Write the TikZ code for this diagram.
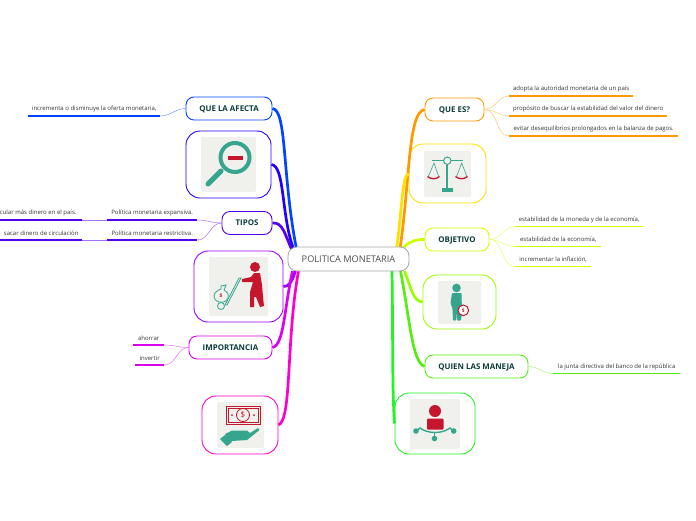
\documentclass[tikz,border=0pt]{standalone}
\usepackage{fontspec}
\setmainfont{Open Sans}
\usepackage{xcolor}
\usetikzlibrary{calc}
\definecolor{cAfecta}{HTML}{0044FF}
\definecolor{cLupa}{HTML}{2200FF}
\definecolor{cTipos}{HTML}{5500EE}
\definecolor{cCarga}{HTML}{9900FF}
\definecolor{cImporta}{HTML}{DD00EE}
\definecolor{cMano}{HTML}{FF00CC}
\definecolor{cQue}{HTML}{FF9900}
\definecolor{cBalanza}{HTML}{FFE000}
\definecolor{cObjetivo}{HTML}{CCFF00}
\definecolor{cSocio}{HTML}{99FF00}
\definecolor{cQuien}{HTML}{55EE11}
\definecolor{cRed}{HTML}{22F522}
\definecolor{iconTeal}{HTML}{36A58E}
\definecolor{iconRed}{HTML}{C5162E}
\definecolor{iconBack}{HTML}{F0F0ED}
\definecolor{topicText}{HTML}{0B3D3A}

\begin{document}
\begin{tikzpicture}[
  x=1pt, y=-1pt,
  every node/.style={inner sep=0pt},
  root/.style={draw=gray!70, line width=0.8pt, rounded corners=9pt, fill=white,
               minimum width=121pt, minimum height=24pt, text=black!70,
               text height=6.6pt, text depth=0pt,
               font=\fontsize{9.2}{11}\selectfont},
  topic/.style={draw=#1, line width=0.9pt, rounded corners=8pt, fill=white,
                minimum height=23pt, text=topicText,
                text height=5.8pt, text depth=0pt,
                font=\fontsize{7.9}{9}\selectfont\bfseries},
  picbox/.style={draw=#1, line width=0.9pt, rounded corners=14pt, fill=white},
  leaf/.style={anchor=south west, minimum height=13.5pt, text=black!80,
               font=\fontsize{6}{7}\selectfont},
  branch/.style={line width=2.7pt, #1},
  link/.style={line width=0.5pt, #1!55},
  back/.style={fill=iconBack, rounded corners=2pt},
]
  \useasboundingbox (0,0) rectangle (696,520);

  % Central topic goes on last, branches run underneath it
  \coordinate (hub) at (348.5,259);

  % Left side
  \node[topic=cAfecta, minimum width=86pt] (afecta) at (229,108.5) {QUE LA AFECTA};
  \node[picbox=cLupa, minimum width=85pt, minimum height=67pt] (lupa) at (228.5,164.5) {};
  \node[topic=cTipos, minimum width=50pt] (tipos) at (247,223) {TIPOS};
  \node[picbox=cCarga, minimum width=89pt, minimum height=71pt] (carga) at (238.5,286.5) {};
  \node[topic=cImporta, minimum width=83pt] (importa) at (230.5,347.5) {IMPORTANCIA};
  \node[picbox=cMano, minimum width=76pt, minimum height=58pt] (mano) at (240,425) {};

  % Right side
  \node[topic=cQue, minimum width=59pt] (que) at (454.5,109.5) {QUE ES?};
  \node[picbox=cBalanza, minimum width=77pt, minimum height=59pt] (balanza) at (447.5,173.5) {};
  \node[topic=cObjetivo, minimum width=64pt] (objetivo) at (457,239.5) {OBJETIVO};
  \node[picbox=cSocio, minimum width=73pt, minimum height=54pt] (socio) at (459.5,302) {};
  \node[topic=cQuien, minimum width=103pt] (quien) at (476.5,366.5) {QUIEN LAS MANEJA};
  \node[picbox=cRed, minimum width=80pt, minimum height=61pt] (junta) at (435,423.5) {};

  % Leaves, left
  \node[leaf, minimum width=132pt] (oferta) at (28,116) {incrementa o disminuye la oferta monetaria,};
  \node[leaf, minimum width=90pt] (expan) at (107,220) {Política monetaria expansiva.};
  \node[leaf, minimum width=90pt] (restr) at (107,240) {Política monetaria restrictiva.};
  \node[leaf, minimum width=82pt] (circu) at (0,220) {\hspace{-6pt}cular más dinero en el país.};
  \node[leaf, minimum width=82pt] (sacar) at (0,240) {sacar dinero de circulación};
  \node[leaf, minimum width=31pt] (ahorrar) at (133,345) {ahorrar};
  \node[leaf, minimum width=29pt] (invertir) at (135,365) {invertir};

  % Leaves, right
  \node[leaf, minimum width=124pt] (que1) at (509,96) {adopta la autoridad monetaria de un país};
  \node[leaf, minimum width=158pt] (que2) at (509,116) {propósito de buscar la estabilidad del valor del dinero};
  \node[leaf, minimum width=169pt] (que3) at (509,136) {evitar desequilibrios prolongados en la balanza de pagos.};
  \node[leaf, minimum width=128pt] (obj1) at (515,226.5) {estabilidad de la moneda y de la economía,};
  \node[leaf, minimum width=86pt] (obj2) at (515,246.5) {estabilidad de la economía,};
  \node[leaf, minimum width=76pt] (obj3) at (515,266.5) {incrementar la inflación,};
  \node[leaf, minimum width=127pt] (banco) at (553,373.5) {la junta directiva del banco de la república};

  % Underlines of the leaves
  \foreach \n/\c in {oferta/cAfecta,expan/cTipos,restr/cTipos,circu/cTipos,sacar/cTipos,
                     ahorrar/cImporta,invertir/cImporta,que1/cQue,que2/cQue,que3/cQue,
                     obj1/cObjetivo,obj2/cObjetivo,obj3/cObjetivo,banco/cQuien}
    \draw[line width=1.1pt, \c] (\n.south west) -- (\n.south east);

  % Thin links topic to leaf
  \draw[link=cAfecta] (afecta.west) to[out=180,in=0] (oferta.south east);
  \draw[link=cTipos] (tipos.west) to[out=180,in=0] (expan.south east);
  \draw[link=cTipos] (tipos.west) to[out=180,in=0] (restr.south east);
  \draw[link=cTipos] (expan.south west) -- (circu.south east);
  \draw[link=cTipos] (restr.south west) -- (sacar.south east);
  \draw[link=cImporta] (importa.west) to[out=180,in=0] (ahorrar.south east);
  \draw[link=cImporta] (importa.west) to[out=180,in=0] (invertir.south east);
  \draw[link=cQue] (que.east) to[out=0,in=180] (que1.south west);
  \draw[link=cQue] (que.east) to[out=0,in=180] (que2.south west);
  \draw[link=cQue] (que.east) to[out=0,in=180] (que3.south west);
  \draw[link=cObjetivo] (objetivo.east) to[out=0,in=180] (obj1.south west);
  \draw[link=cObjetivo] (objetivo.east) to[out=0,in=180] (obj2.south west);
  \draw[link=cObjetivo] (objetivo.east) to[out=0,in=180] (obj3.south west);
  \draw[link=cQuien] (quien.east) to[out=0,in=180] (banco.south west);

  % Main branches
  \draw[branch=cAfecta] (afecta.east) .. controls (287,110) and (282,175) .. ($(hub)+(-52,-10)$);
  \draw[branch=cLupa] (lupa.east) .. controls (285,166) and (281,215) .. ($(hub)+(-55,-10)$);
  \draw[branch=cTipos] (tipos.east) .. controls (283,222) and (285,235) .. ($(hub)+(-57,-10)$);
  \draw[branch=cCarga] (carga.east) .. controls (291,286) and (292,280) .. ($(hub)+(-53,12)$);
  \draw[branch=cImporta] (importa.east) .. controls (284,345) and (284,310) .. ($(hub)+(-56,12)$);
  \draw[branch=cMano] (mano.east) .. controls (292,420) and (286,340) .. ($(hub)+(-50,12)$);
  \draw[branch=cQue] (que.west) .. controls (408,112) and (410,180) .. ($(hub)+(51.5,-10)$);
  \draw[branch=cBalanza] (balanza.west) .. controls (402,176) and (402,210) .. ($(hub)+(48,-10)$);
  \draw[branch=cObjetivo] (objetivo.west) .. controls (412,239) and (405,245) .. ($(hub)+(54,-10)$);
  \draw[branch=cSocio] (socio.west) .. controls (413,302) and (410,285) .. ($(hub)+(56,12)$);
  \draw[branch=cQuien] (quien.west) .. controls (412,362) and (410,320) .. ($(hub)+(52,12)$);
  \draw[branch=cRed] (junta.west) .. controls (392,390) and (393,330) .. ($(hub)+(43.5,12)$);

  \node[root] (politica) at (hub) {POLITICA MONETARIA};

  % Magnifier
  \fill[back] (201,137) rectangle (256,192);
  \draw[iconTeal, line width=4pt] (235,157.5) circle (14.5);
  \draw[iconTeal, line width=5pt, line cap=round] (208,184) -- (221,171);
  \fill[iconRed] (228,156) rectangle (243,160);

  % Man pulling a money bag
  \fill[back] (209,257) rectangle (268,316);
  \fill[iconRed] (255,267) circle (5);
  \fill[iconRed] (242,279) -- (251,277) -- (254,273) -- (260,273) -- (262,285) -- (263,297)
    -- (264,306) -- (260,307) -- (256,297) -- (254,297) -- (254,307) -- (250,307)
    -- (250,292) -- (253,282) -- (242,282) -- cycle;
  \draw[iconTeal, line width=0.8pt] (241,278) -- (227,305) -- (225,305) -- (239,278) -- cycle;
  \draw[iconTeal, line width=0.8pt] (221,306) circle (3.5);
  \draw[iconTeal, line width=0.8pt, fill=iconBack] (224,290) .. controls (232,294) and (228,304) .. (219,302)
    .. controls (212,300) and (212,292) .. (221,289) -- (221,286) -- (226,285) -- cycle;
  \node[text=iconRed, font=\fontsize{5}{5}\selectfont\bfseries] (bolsa) at (221,296) {\$};

  % Banknote on a hand
  \fill[back] (217,402) rectangle (264,448);
  \draw[iconRed, line width=0.8pt] (226,406.5) rectangle (260,424);
  \draw[iconRed, line width=0.5pt] (228,408.5) rectangle (258,422);
  \draw[iconRed, line width=0.8pt] (243,415) circle (6.5);
  \fill[iconRed] (232,415) circle (1) (254,415) circle (1);
  \node[text=iconRed, font=\fontsize{8}{8}\selectfont] (billete) at (243,415) {\$};
  \fill[iconTeal] (225,434) -- (232,430.5) -- (247,430.5) -- (250,433) -- (258,428)
    -- (259.5,430) -- (247,440) -- (232,441) -- (228,443) -- cycle;
  \fill[iconTeal] (220,439) -- (225,435) -- (232,442) -- (227,446) -- cycle;

  % Scales
  \fill[back] (424,151) rectangle (471,197);
  \draw[iconTeal, line width=1pt] (432,160.7) -- (443.5,160.7) (451,160.7) -- (463,160.7);
  \draw[iconTeal, line width=1pt] (447.3,160.7) circle (3.7);
  \draw[iconTeal, line width=2pt] (447.3,165) -- (447.3,188);
  \fill[iconTeal] (441.7,188) rectangle (453.3,192);
  \draw[iconTeal, line width=0.6pt] (428.5,176) -- (434,163) -- (438.5,176);
  \draw[iconTeal, line width=0.6pt] (456.7,176) -- (461.7,163) -- (466.7,176);
  \draw[iconRed, line width=1.3pt] (427.5,176.5) .. controls (431,179.5) and (436,179.5) .. (439.5,176.5);
  \draw[iconRed, line width=1.3pt] (455.5,176.5) .. controls (459,179.5) and (464,179.5) .. (467.5,176.5);

  % Standing man with coin
  \fill[back] (438,281) rectangle (481,324);
  \fill[iconTeal] (456.5,288) circle (4.3);
  \fill[iconTeal, rounded corners=1pt] (452,293) -- (461.5,293) -- (462,312) -- (461,320.5) -- (457,320.5)
    -- (456.7,312) -- (456,320.5) -- (453,320.5) -- (452.5,309) -- (450.5,303) -- cycle;
  \draw[iconRed, line width=1pt, fill=white] (463.3,310.3) circle (5.3);
  \node[text=iconRed, font=\fontsize{5}{5}\selectfont\bfseries] (moneda) at (463.3,310.3) {\$};

  % Man on a network
  \fill[back] (410,399) rectangle (460,449);
  \fill[iconRed] (435,411) circle (6);
  \fill[iconRed, rounded corners=1pt] (427,418.5) -- (443.5,418.5) -- (443.5,429.5) -- (427,429.5) -- cycle;
  \draw[iconTeal, line width=1.4pt] (416.5,431) -- (420,428) .. controls (428,434) and (442,434) .. (450,428) -- (453.5,431);
  \draw[iconTeal, line width=1pt] (434.5,433) -- (434.5,438);
  \fill[iconTeal] (416,431) circle (2.8) (453.7,431) circle (2.8) (434.5,438.5) circle (2.8);
\end{tikzpicture}
\end{document}
